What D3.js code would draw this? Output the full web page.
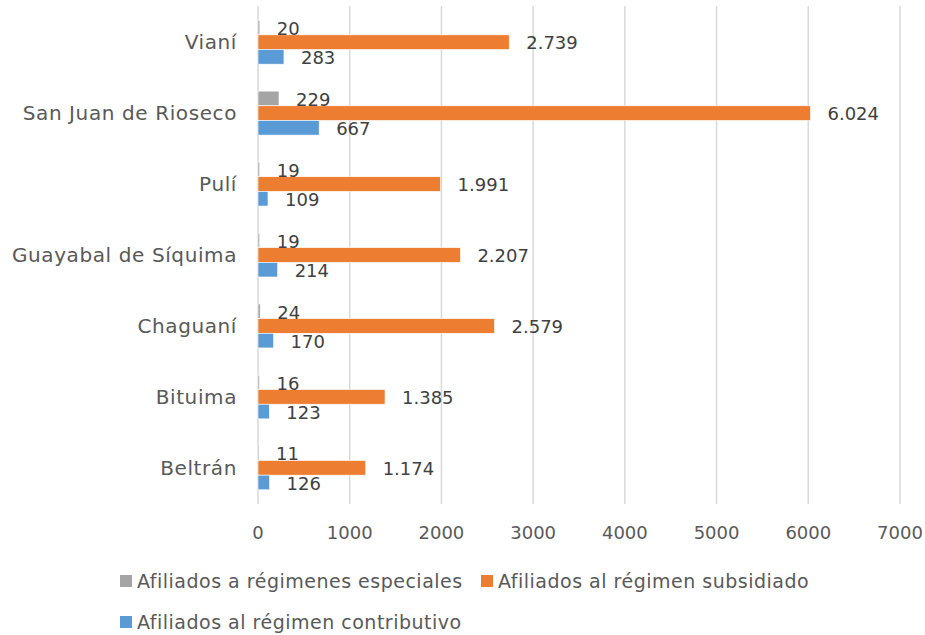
<!DOCTYPE html>
<html>
<head>
<meta charset="utf-8">
<script src="https://cdn.jsdelivr.net/npm/d3@7"></script>
<style>
  body { margin: 0; background: #fff; }
  text { font-family: "DejaVu Sans", sans-serif; fill: #595959; }
</style>
</head>
<body>
<div id="chart"></div>
<script>
// Data
const municipios = ["Vianí", "San Juan de Rioseco", "Pulí", "Guayabal de Síquima", "Chaguaní", "Bituima", "Beltrán"];
const especiales = [20, 229, 19, 19, 24, 16, 11];
const subsidiado = [2739, 6024, 1991, 2207, 2579, 1385, 1174];
const contributivo = [283, 667, 109, 214, 170, 123, 126];
const seriesNames = ["Afiliados a régimenes especiales", "Afiliados al régimen subsidiado", "Afiliados al régimen contributivo"];
const seriesColors = ["#A5A5A5", "#ED7D31", "#5B9BD5"];
const xTicks = [0, 1000, 2000, 3000, 4000, 5000, 6000, 7000];

const width = 925, height = 635;
const margin = { left: 258, right: 25, top: 6, bottom: 131 };

const svg = d3.select("#chart").append("svg")
    .attr("width", width)
    .attr("height", height);

const x = d3.scaleLinear()
    .domain([0, 7000])
    .range([margin.left, 900]);

const y = d3.scaleBand()
    .domain(municipios)
    .range([margin.top, height - margin.bottom])
    .paddingInner(0.38)
    .paddingOuter(0.2);

const ySub = d3.scaleBand()
    .domain([0, 1, 2])
    .range([0, y.bandwidth()]);

const fmt = d3.formatLocale({ decimal: ",", thousands: ".", grouping: [3], currency: ["$", ""] }).format(",d");

// gridlines
svg.append("g")
    .selectAll("line")
    .data(xTicks)
    .join("line")
    .attr("x1", d => x(d)).attr("x2", d => x(d))
    .attr("y1", margin.top).attr("y2", height - margin.bottom)
    .attr("stroke", "#D9D9D9")
    .attr("stroke-width", 1.5);

// x tick labels
svg.append("g")
    .selectAll("text")
    .data(xTicks)
    .join("text")
    .attr("x", d => x(d))
    .attr("y", 533)
    .attr("dy", "0.35em")
    .attr("text-anchor", "middle")
    .style("font-size", "18px")
    .text(d => d);

// category labels
svg.append("g")
    .selectAll("text")
    .data(municipios)
    .join("text")
    .attr("x", 237)
    .attr("y", d => y(d) + y.bandwidth() / 2)
    .attr("dy", "0.35em")
    .attr("text-anchor", "end")
    .style("font-size", "20px")
    .style("letter-spacing", "0.6px")
    .text(d => d);

// bars
const rows = municipios.map((m, i) => ({ m, vals: [especiales[i], subsidiado[i], contributivo[i]] }));

const group = svg.append("g")
    .selectAll("g")
    .data(rows)
    .join("g")
    .attr("transform", d => `translate(0,${y(d.m)})`);

group.selectAll("rect")
    .data(d => d.vals.map((v, k) => ({ v, k })))
    .join("rect")
    .attr("x", x(0))
    .attr("y", d => ySub(d.k))
    .attr("width", d => x(d.v) - x(0))
    .attr("height", ySub.bandwidth())
    .attr("fill", d => seriesColors[d.k])
    .attr("stroke", "#fff")
    .attr("stroke-width", 0.6);

group.selectAll("text")
    .data(d => d.vals.map((v, k) => ({ v, k })))
    .join("text")
    .attr("x", d => x(d.v) + 17)
    .attr("y", d => ySub(d.k) + ySub.bandwidth() / 2 + 1)
    .attr("dy", "0.35em")
    .style("font-size", "18px")
    .style("fill", "#404040")
    .text(d => fmt(d.v));

// legend
const legendPos = [[120, 581], [481, 581], [120, 622]];
const legend = svg.append("g")
    .selectAll("g")
    .data(seriesNames)
    .join("g")
    .attr("transform", (d, i) => `translate(${legendPos[i][0]},${legendPos[i][1]})`);

legend.append("rect")
    .attr("x", 0).attr("y", -6)
    .attr("width", 12).attr("height", 12)
    .attr("fill", (d, i) => seriesColors[i]);

legend.append("text")
    .attr("x", 17)
    .attr("dy", "0.35em")
    .style("font-size", "19px")
    .style("letter-spacing", "0.5px")
    .text(d => d);
</script>
</body>
</html>
